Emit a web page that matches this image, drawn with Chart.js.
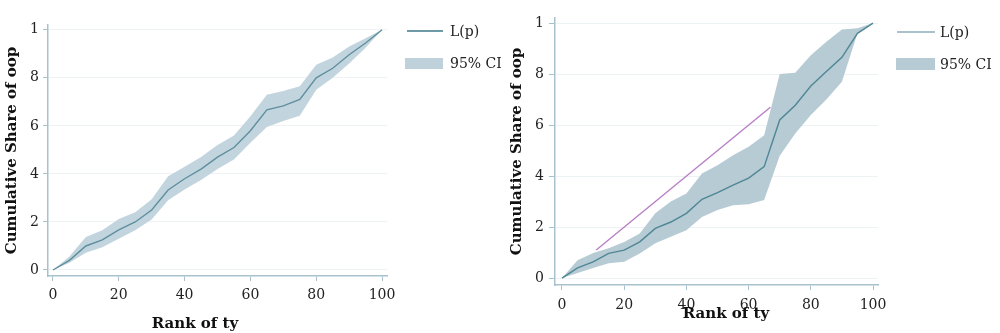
<!DOCTYPE html>
<html>
<head>
<meta charset="utf-8">
<script src="https://cdn.jsdelivr.net/npm/chart.js@4"></script>
<style>
  body { margin: 0; background: #fff; }
  #wrap { position: relative; width: 1000px; height: 333px; font-family: "DejaVu Serif", serif; color: #222; }
  canvas { position: absolute; top: 0; }
  .leg { position: absolute; font-size: 14px; line-height: 16px; white-space: nowrap; }
  .xt { position: absolute; font-size: 15px; font-weight: bold; line-height: 18px; color: #111; white-space: nowrap; transform: translateX(-50%); }
  .sw-line { position: absolute; height: 2px; background: #6f9aa8; }
  .sw-box { position: absolute; background: #bfd2db; }
</style>
</head>
<body>
<div id="wrap">
  <canvas id="left" width="500" height="333" style="left:0"></canvas>
  <canvas id="right" width="500" height="333" style="left:500px"></canvas>

  <div class="xt" style="left:195px; top:314px;">Rank of ty</div>
  <div class="xt" style="left:726px; top:304px;">Rank of ty</div>

  <div class="sw-line" style="left:407px; top:30px; width:36px;"></div>
  <div class="leg" style="left:450px; top:23px;">L(p)</div>
  <div class="sw-box" style="left:405px; top:58px; width:38px; height:11px;"></div>
  <div class="leg" style="left:450px; top:55px;">95% CI</div>

  <div class="sw-line" style="left:897px; top:31px; width:38px; background:#a9c3ce;"></div>
  <div class="leg" style="left:940px; top:24px;">L(p)</div>
  <div class="sw-box" style="left:896px; top:58px; width:39px; height:12px; background:#b6cbd4;"></div>
  <div class="leg" style="left:940px; top:56px;">95% CI</div>
</div>
<script>
// shared axis values
const xRank = [0, 5, 10, 15, 20, 25, 30, 35, 40, 45, 50, 55, 60, 65, 70, 75, 80, 85, 90, 95, 100];
const xTickValues = [0, 20, 40, 60, 80, 100];
const yTickValues = [0, 0.2, 0.4, 0.6, 0.8, 1];
const yTickLabels = ['0', '2', '4', '6', '8', '1'];

// left panel
const leftLp = [0, 0.04, 0.10, 0.125, 0.167, 0.20, 0.25, 0.333, 0.38, 0.42, 0.47, 0.51, 0.58, 0.667, 0.683, 0.71, 0.80, 0.84, 0.896, 0.945, 1];
const leftLo = [0, 0.03, 0.072, 0.095, 0.13, 0.165, 0.21, 0.29, 0.335, 0.375, 0.42, 0.46, 0.53, 0.595, 0.62, 0.642, 0.75, 0.80, 0.86, 0.925, 1];
const leftHi = [0, 0.056, 0.137, 0.165, 0.212, 0.24, 0.295, 0.39, 0.43, 0.47, 0.52, 0.56, 0.64, 0.73, 0.745, 0.765, 0.855, 0.885, 0.93, 0.965, 1];

// right panel
const rightLp = [0, 0.04, 0.064, 0.097, 0.11, 0.142, 0.195, 0.22, 0.254, 0.309, 0.335, 0.365, 0.392, 0.437, 0.62, 0.678, 0.753, 0.81, 0.866, 0.96, 1];
const rightLo = [0, 0.02, 0.04, 0.058, 0.064, 0.097, 0.137, 0.162, 0.188, 0.24, 0.267, 0.286, 0.29, 0.306, 0.48, 0.567, 0.64, 0.70, 0.77, 0.96, 1];
const rightHi = [0, 0.07, 0.098, 0.117, 0.142, 0.175, 0.254, 0.30, 0.332, 0.41, 0.443, 0.482, 0.515, 0.56, 0.80, 0.805, 0.874, 0.927, 0.975, 0.98, 1];
const eqX = [11, 67];
const eqY = [0.11, 0.67];

const axisColor = '#a8c2cd';
const gridColor = '#edf2f5';

function pts(ys) {
  return xRank.map((x, i) => ({ x: x, y: ys[i] }));
}

function makeChart(id, cfg) {
  const datasets = [
    { data: pts(cfg.lp), borderColor: cfg.lineColor, borderWidth: 1.4, pointRadius: 0, fill: false, order: 0 },
    { data: pts(cfg.hi), borderWidth: 0, pointRadius: 0, backgroundColor: cfg.band, fill: '+1', order: 2 },
    { data: pts(cfg.lo), borderWidth: 0, pointRadius: 0, backgroundColor: cfg.band, fill: false, order: 3 }
  ];
  if (cfg.eq) {
    datasets.push({ data: cfg.eq, borderColor: '#b67fc6', borderWidth: 1.4, pointRadius: 0, fill: false, order: 1 });
  }
  return new Chart(document.getElementById(id), {
    type: 'line',
    data: { datasets: datasets },
    options: {
      responsive: false,
      animation: false,
      layout: { padding: { top: cfg.top, right: cfg.right, bottom: 0, left: 0 } },
      plugins: { legend: { display: false }, tooltip: { enabled: false } },
      scales: {
        x: {
          type: 'linear',
          min: cfg.xMin, max: cfg.xMax,
          afterBuildTicks: s => { s.ticks = xTickValues.map(v => ({ value: v })); },
          afterFit: s => { s.height = cfg.xH; },
          grid: { drawOnChartArea: false, tickLength: 5, tickColor: axisColor, color: axisColor },
          border: { color: axisColor, width: 1.5 },
          ticks: { padding: cfg.xPad, color: '#222', font: { family: 'DejaVu Serif', size: 14 } }
        },
        y: {
          min: cfg.yMin, max: 1.02,
          afterBuildTicks: s => { s.ticks = yTickValues.map(v => ({ value: v })); },
          afterFit: s => { s.width = cfg.yW; },
          grid: { color: gridColor, tickLength: cfg.tickLen, tickColor: axisColor },
          border: { color: axisColor, width: 1.5 },
          ticks: { padding: cfg.yPad, color: '#222', font: { family: 'DejaVu Serif', size: 14 },
                   callback: (v, i) => yTickLabels[i] },
          title: { display: true, text: 'Cumulative Share of oop', color: '#111', padding: { top: cfg.yTitlePad, bottom: 0 },
                   font: { family: 'DejaVu Serif', size: 15, weight: 'bold' } }
        }
      }
    }
  });
}

makeChart('left', {
  lp: leftLp, lo: leftLo, hi: leftHi,
  lineColor: '#5f8f9e', band: '#c2d5de',
  top: 25, right: 113, xH: 57, yW: 48,
  xMin: -1.5, xMax: 101.5, yMin: -0.025,
  xPad: 6, tickLen: 5, yPad: 4, yTitlePad: 3
});

makeChart('right', {
  lp: rightLp, lo: rightLo, hi: rightHi,
  eq: eqX.map((x, i) => ({ x: x, y: eqY[i] })),
  lineColor: '#4f8795', band: '#b6cbd4',
  top: 18, right: 122, xH: 48, yW: 55,
  xMin: -2.25, xMax: 101.6, yMin: -0.027,
  xPad: 7, tickLen: 6, yPad: 5, yTitlePad: 8
});
</script>
</body>
</html>
